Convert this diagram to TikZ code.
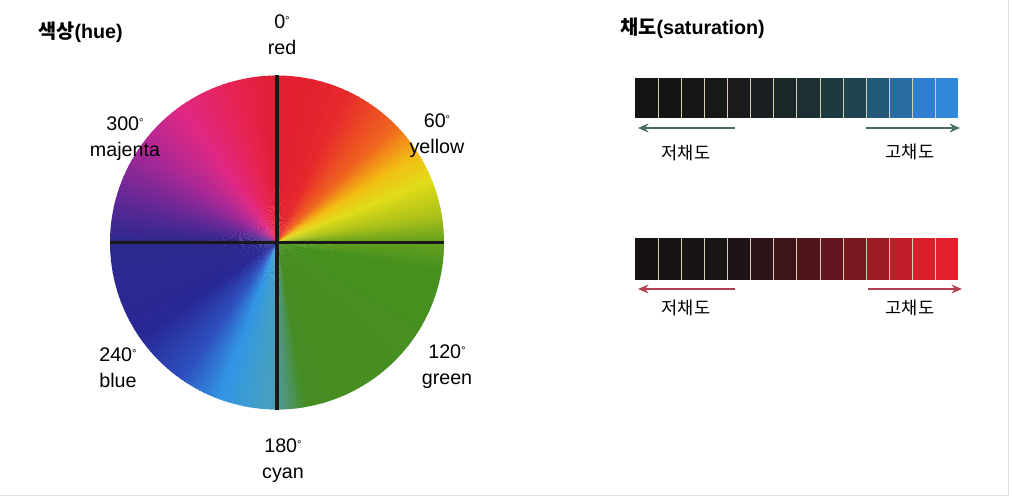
\documentclass[tikz,border=0pt]{standalone}
\usepackage{fontspec}
\setmainfont{Liberation Sans}
\newfontfamily\cjk{Noto Sans CJK KR}
\usetikzlibrary{arrows.meta}

% hue wheel key colours (angle clockwise from top)
\definecolor{hue0}{RGB}{225,30,50}
\definecolor{hue25}{RGB}{230,40,45}
\definecolor{hue45}{RGB}{240,100,30}
\definecolor{hue58}{RGB}{242,190,20}
\definecolor{hue68}{RGB}{225,220,25}
\definecolor{hue80}{RGB}{175,195,25}
\definecolor{hue90}{RGB}{100,160,30}
\definecolor{hue100}{RGB}{70,145,30}
\definecolor{hue170}{RGB}{70,140,35}
\definecolor{hue178}{RGB}{80,150,130}
\definecolor{hue182}{RGB}{70,160,190}
\definecolor{hue200}{RGB}{50,150,230}
\definecolor{hue215}{RGB}{45,80,190}
\definecolor{hue235}{RGB}{40,40,150}
\definecolor{hue270}{RGB}{45,40,140}
\definecolor{hue285}{RGB}{95,40,150}
\definecolor{hue305}{RGB}{170,40,150}
\definecolor{hue325}{RGB}{225,40,130}
\definecolor{hue345}{RGB}{230,35,80}
\definecolor{sepc}{RGB}{215,205,175}
\definecolor{tealarr}{RGB}{70,112,92}
\definecolor{rosearr}{RGB}{180,62,82}

\newcommand{\dg}{\raisebox{0.45ex}{\fontsize{8}{8}\selectfont°}}

\begin{document}
\begin{tikzpicture}[
  x=0.025cm, y=0.025cm,
  deg/.style={align=center, inner sep=0pt, font=\fontsize{14}{18.5}\selectfont},
  title/.style={anchor=west, inner sep=0pt, font=\bfseries\fontsize{14}{16}\selectfont},
  kor/.style={inner sep=0pt, font=\cjk\fontsize{12.5}{14}\selectfont},
  cell/.style={rectangle, inner sep=0pt, minimum width=0.577cm},
  axisline/.style={line width=2.2pt, black!90},
  tealline/.style={-{Stealth[length=2.6mm,width=2.2mm]}, line width=1.9pt, tealarr},
  roseline/.style={-{Stealth[length=2.6mm,width=2.2mm]}, line width=1.9pt, rosearr},
]
  \useasboundingbox (0,0) rectangle (1012,502);

  % hue wheel
  \coordinate (hc) at (277,259.5);
  \foreach \a/\b/\ca/\cb in {0/25/hue0/hue25, 25/45/hue25/hue45, 45/58/hue45/hue58,
      58/68/hue58/hue68, 68/80/hue68/hue80, 80/90/hue80/hue90, 90/100/hue90/hue100,
      100/170/hue100/hue170, 170/178/hue170/hue178, 178/182/hue178/hue182,
      182/200/hue182/hue200, 200/215/hue200/hue215, 215/235/hue215/hue235,
      235/270/hue235/hue270, 270/285/hue270/hue285, 285/305/hue285/hue305,
      305/325/hue305/hue325, 325/345/hue325/hue345, 345/360/hue345/hue0}
    \foreach \k in {0,...,9} {
      \pgfmathsetmacro\s{90-\a-(\b-\a)*\k/10}
      \pgfmathsetmacro\e{90-\a-(\b-\a)*(\k+1)/10-0.4}
      \pgfmathtruncatemacro\m{\k*10+5}
      \colorlet{wedge}{\cb!\m!\ca}
      \fill[wedge] (hc) -- ++(\s:167) arc[start angle=\s, end angle=\e, radius=167] -- cycle;
    }
  \path (hc) ++(0,167) coordinate (wt) (hc) ++(0,-167) coordinate (wb)
        (hc) ++(-167,0) coordinate (wl) (hc) ++(167,0) coordinate (wr);
  \draw[axisline] (wt) -- (wb);
  \draw[axisline] (wl) -- (wr);

  \node[title] (huetitle) at (38,470) {{\cjk 색상}(hue)};
  \node[deg] (red) at (282,467) {0\dg\\red};
  \node[deg] (yellow) at (437,366) {60\dg\\yellow};
  \node[deg] (magenta) at (125,363) {300\dg\\majenta};
  \node[deg] (blue) at (118,134) {240\dg\\blue};
  \node[deg] (green) at (447,135) {120\dg\\green};
  \node[deg] (cyan) at (283,41) {180\dg\\cyan};

  % saturation bars
  \node[title] (sattitle) at (620,474) {{\cjk 채도}(saturation)};
  \foreach \i/\c in {1/141414, 2/151515, 3/161616, 4/171818, 5/181A1B, 6/1A1F22, 7/1B2628,
      8/1C3033, 9/1D3A40, 10/1F4550, 11/235A78, 12/2A6CA4, 13/2F7ED2, 14/3388DA} {
    \definecolor{cellc}{HTML}{\c}
    \node[cell, fill=cellc, minimum height=1cm] (t\i) at ({635+23.07*(\i-0.5)},404) {};
  }
  \foreach \i/\c in {1/161212, 2/181313, 3/191414, 4/1A1414, 5/1E1415, 6/2C1418, 7/3D141A,
      8/4F151D, 9/62161F, 10/7A1822, 11/9E1B25, 12/C01D28, 13/D81F2A, 14/E2202C} {
    \definecolor{cellc}{HTML}{\c}
    \node[cell, fill=cellc, minimum height=1.05cm] (r\i) at ({635+23.07*(\i-0.5)},243) {};
  }
  \foreach \i in {1,...,13} {
    \draw[sepc, line width=0.5pt] (t\i.north east) -- (t\i.south east);
    \draw[sepc, line width=0.5pt] (r\i.north east) -- (r\i.south east);
  }

  \coordinate (tl0) at (735,374);
  \coordinate (tl1) at (638,374);
  \coordinate (th0) at (866,374);
  \coordinate (th1) at (960,374);
  \draw[tealline] (tl0) -- (tl1);
  \draw[tealline] (th0) -- (th1);
  \node[kor] (tlow) at (686,349) {저채도};
  \node[kor] (thigh) at (910,350) {고채도};

  \coordinate (rl0) at (735,213);
  \coordinate (rl1) at (638,213);
  \coordinate (rh0) at (868,213);
  \coordinate (rh1) at (962,213);
  \draw[roseline] (rl0) -- (rl1);
  \draw[roseline] (rh0) -- (rh1);
  \node[kor] (rlow) at (686,194) {저채도};
  \node[kor] (rhigh) at (910,194) {고채도};

  % faint scan frame
  \draw[black!12, line width=0.6pt] (1008,502) -- (1008,7) -- (0,7);
\end{tikzpicture}
\end{document}
